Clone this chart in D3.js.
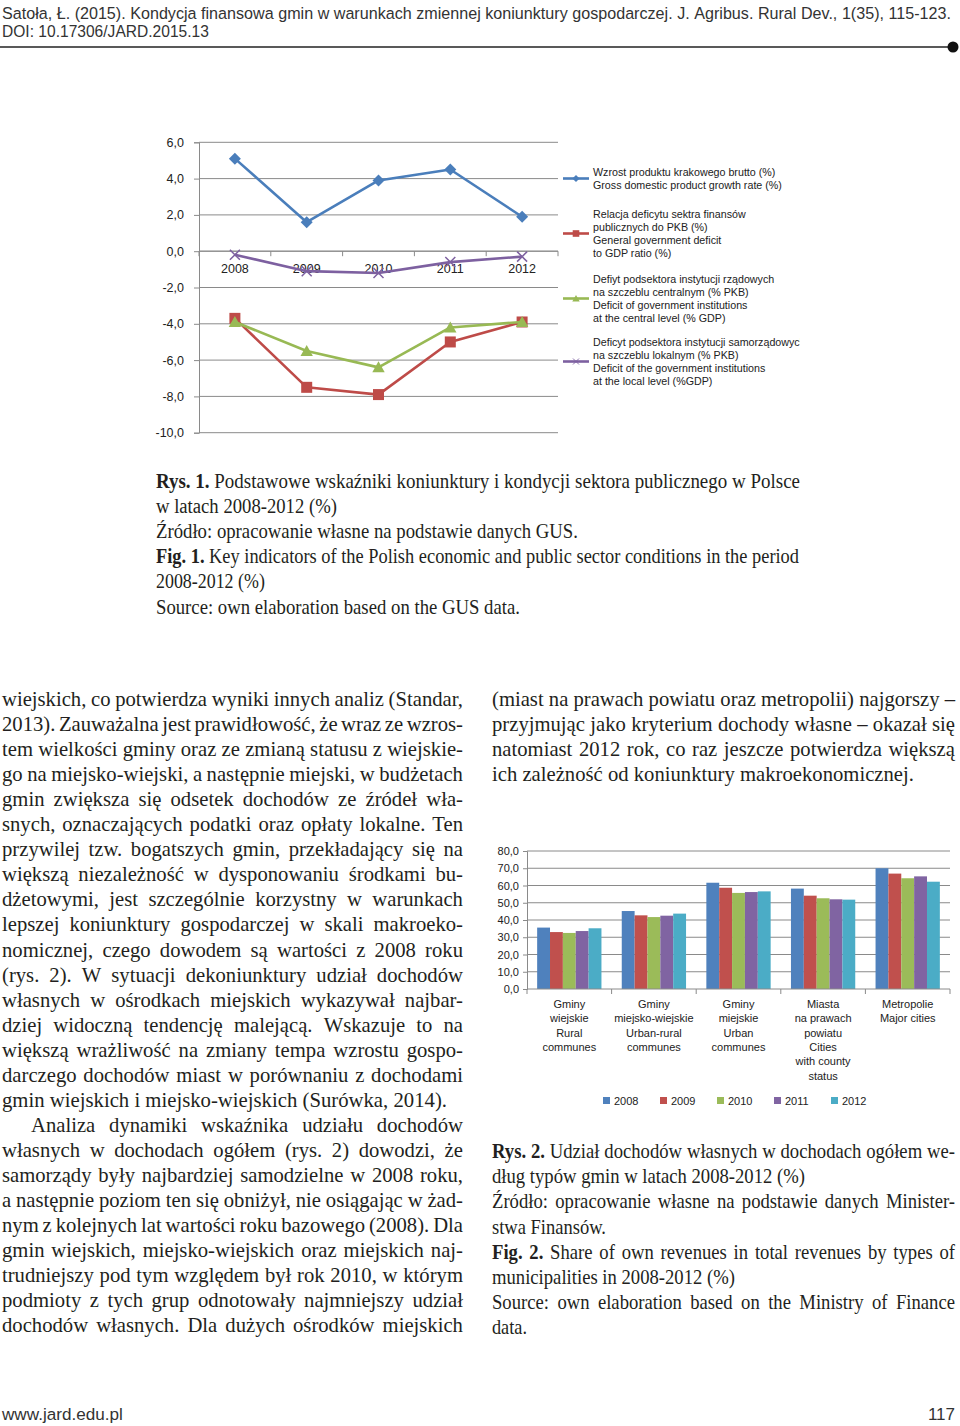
<!DOCTYPE html>
<html><head><meta charset="utf-8">
<script src="https://cdn.jsdelivr.net/npm/d3@7"></script>
<style>
html,body{margin:0;padding:0;background:#fff;}
svg{display:block;}
</style></head><body>
<svg id="page" width="960" height="1426"></svg>
<script>
// ---------- DATA: chart 1 ----------
const years = ["2008","2009","2010","2011","2012"];
const gdpGrowth      = [5.1, 1.6, 3.9, 4.5, 1.9];
const govDeficit     = [-3.7, -7.5, -7.9, -5.0, -3.9];
const centralDeficit = [-3.9, -5.5, -6.4, -4.2, -3.9];
const localDeficit   = [-0.2, -1.1, -1.2, -0.6, -0.3];
const lineTicks = [6, 4, 2, 0, -2, -4, -6, -8, -10];
const legendGdp     = ["Wzrost produktu krakowego brutto (%)", "Gross domestic product growth rate (%)"];
const legendGov     = ["Relacja deficytu sektra finansów", "publicznych do PKB (%)", "General government deficit", "to GDP ratio (%)"];
const legendCentral = ["Defiyt podsektora instytucji rządowych", "na szczeblu centralnym (% PKB)", "Deficit of government institutions", "at the central level (% GDP)"];
const legendLocal   = ["Deficyt podsektora instytucji samorządowych", "na szczeblu lokalnym (% PKB)", "Deficit of the government institutions", "at the local level (%GDP)"];

// ---------- DATA: chart 2 ----------
const communeTypes = ["rural", "urbanRural", "urban", "cities", "major"];
const communeLabels = [
  ["Gminy", "wiejskie", "Rural", "communes"],
  ["Gminy", "miejsko-wiejskie", "Urban-rural", "communes"],
  ["Gminy", "miejskie", "Urban", "communes"],
  ["Miasta", "na prawach", "powiatu", "Cities", "with county", "status"],
  ["Metropolie", "Major cities"]
];
const share2008 = [35.6, 45.2, 61.6, 58.2, 70.0];
const share2009 = [33.0, 42.7, 58.7, 54.1, 66.9];
const share2010 = [32.5, 41.7, 55.7, 52.6, 64.2];
const share2011 = [33.6, 42.5, 56.2, 52.0, 65.3];
const share2012 = [35.2, 43.7, 56.6, 51.8, 62.2];
const barTicks = [0, 10, 20, 30, 40, 50, 60, 70, 80];

// ---------- TEXT ----------
const headerLine1 = "Satoła, Ł. (2015). Kondycja finansowa gmin w warunkach zmiennej koniunktury gospodarczej. J. Agribus. Rural Dev., 1(35), 115-123.";
const headerLine2 = "DOI: 10.17306/JARD.2015.13";
const footerLeft = "www.jard.edu.pl";
const footerRight = "117";
const caption1 = [
  "Rys. 1. Podstawowe wskaźniki koniunktury i kondycji sektora publicznego w Polsce",
  "w latach 2008-2012 (%)",
  "Źródło: opracowanie własne na podstawie danych GUS.",
  "Fig. 1. Key indicators of the Polish economic and public sector conditions in the period",
  "2008-2012 (%)",
  "Source: own elaboration based on the GUS data."
];
const leftColumn = [
  "wiejskich, co potwierdza wyniki innych analiz (Standar,",
  "2013). Zauważalna jest prawidłowość, że wraz ze wzros-",
  "tem wielkości gminy oraz ze zmianą statusu z wiejskie-",
  "go na miejsko-wiejski, a następnie miejski, w budżetach",
  "gmin zwiększa się odsetek dochodów ze źródeł wła-",
  "snych, oznaczających podatki oraz opłaty lokalne. Ten",
  "przywilej tzw. bogatszych gmin, przekładający się na",
  "większą niezależność w dysponowaniu środkami bu-",
  "dżetowymi, jest szczególnie korzystny w warunkach",
  "lepszej koniunktury gospodarczej w skali makroeko-",
  "nomicznej, czego dowodem są wartości z 2008 roku",
  "(rys. 2). W sytuacji dekoniunktury udział dochodów",
  "własnych w ośrodkach miejskich wykazywał najbar-",
  "dziej widoczną tendencję malejącą. Wskazuje to na",
  "większą wrażliwość na zmiany tempa wzrostu gospo-",
  "darczego dochodów miast w porównaniu z dochodami",
  "gmin wiejskich i miejsko-wiejskich (Surówka, 2014).",
  "Analiza dynamiki wskaźnika udziału dochodów",
  "własnych w dochodach ogółem (rys. 2) dowodzi, że",
  "samorządy były najbardziej samodzielne w 2008 roku,",
  "a następnie poziom ten się obniżył, nie osiągając w żad-",
  "nym z kolejnych lat wartości roku bazowego (2008). Dla",
  "gmin wiejskich, miejsko-wiejskich oraz miejskich naj-",
  "trudniejszy pod tym względem był rok 2010, w którym",
  "podmioty z tych grup odnotowały najmniejszy udział",
  "dochodów własnych. Dla dużych ośrodków miejskich"
];
const rightColumn = [
  "(miast na prawach powiatu oraz metropolii) najgorszy –",
  "przyjmując jako kryterium dochody własne – okazał się",
  "natomiast 2012 rok, co raz jeszcze potwierdza większą",
  "ich zależność od koniunktury makroekonomicznej."
];
const caption2 = [
  "Rys. 2. Udział dochodów własnych w dochodach ogółem we-",
  "dług typów gmin w latach 2008-2012 (%)",
  "Źródło: opracowanie własne na podstawie danych Minister-",
  "stwa Finansów.",
  "Fig. 2. Share of own revenues in total revenues by types of",
  "municipalities in 2008-2012 (%)",
  "Source: own elaboration based on the Ministry of Finance",
  "data."
];

// ---------- helpers ----------
const svg = d3.select("#page");
const SERIF = "Liberation Serif, Times New Roman, serif";
const SANS = "Liberation Sans, Arial, sans-serif";
const TXT = "#231f20";
const measurer = svg.append("text").attr("visibility", "hidden");
function natW(str, font, size, weight) {
  measurer.attr("font-family", font).attr("font-size", size).attr("font-weight", weight || "normal").text(str);
  return measurer.node().getComputedTextLength();
}
// draw a line of words; mode: "justify" | "fit" | "natural"
function drawLine(parent, str, opts) {
  const words = str.split(" ");
  const bold = opts.bold || 0;
  const size = opts.size, font = opts.font;
  const ws = words.map((w, i) => natW(w, font, size, i < bold ? "bold" : "normal"));
  const sp = natW("a a", font, size) - natW("aa", font, size);
  const sumW = d3.sum(ws);
  let s = opts.scale || 1, gap;
  if (opts.mode === "fit") {
    s = (opts.x1 - opts.x0) / (sumW + sp * (words.length - 1));
    gap = sp * s;
  } else if (opts.mode === "justify") {
    gap = (opts.x1 - opts.x0 - sumW * s) / Math.max(1, words.length - 1);
  } else {
    gap = sp * s;
  }
  const t = parent.append("text")
    .attr("transform", `translate(0,${opts.y}) scale(${s},1)`)
    .attr("font-family", font).attr("font-size", size).attr("fill", opts.color || TXT);
  let x = opts.x0;
  words.forEach((w, i) => {
    t.append("tspan").attr("x", x / s).attr("y", 0)
      .attr("font-weight", i < bold ? "bold" : "normal")
      .text(i < words.length - 1 ? w + " " : w);
    x += ws[i] * s + gap;
  });
  return s;
}

// ---------- header / footer ----------
const hdr = svg.append("g");
const HC = "#333";
drawLine(hdr, headerLine1, {x0: 2, x1: 951, y: 19, mode: "fit", size: 16.5, font: SANS, color: HC});
drawLine(hdr, headerLine2, {x0: 2, x1: 209, y: 37, mode: "fit", size: 16.5, font: SANS, color: HC});
hdr.append("line").attr("x1", 0).attr("x2", 950).attr("y1", 47).attr("y2", 47).attr("stroke", "#222").attr("stroke-width", 1.6);
hdr.append("circle").attr("cx", 953).attr("cy", 47).attr("r", 5.5).attr("fill", "#111");
drawLine(hdr, footerLeft, {x0: 2, x1: 123, y: 1420, mode: "fit", size: 17, font: SANS, color: HC});
hdr.append("text").attr("x", 955).attr("y", 1420).attr("text-anchor", "end").attr("font-family", SANS).attr("font-size", 17)
  .attr("fill", HC).text(footerRight);

// ---------- chart 1 ----------
const c1 = svg.append("g");
const x1 = d3.scaleBand().domain(years).range([199, 558]);
const y1 = d3.scaleLinear().domain([-10, 6]).range([432.7, 142.3]);
const GRID = "#8a8a8a";
c1.selectAll("line.grid").data(lineTicks).join("line").attr("class", "grid")
  .attr("x1", 199).attr("x2", 558).attr("y1", d => y1(d)).attr("y2", d => y1(d))
  .attr("stroke", GRID).attr("stroke-width", 1);
const yAxis1 = d3.axisLeft(y1).tickValues(lineTicks).tickSize(5).tickPadding(10)
  .tickFormat(d => d.toFixed(1).replace(".", ","));
const ya1 = c1.append("g").attr("transform", "translate(199,0)").call(yAxis1);
ya1.select(".domain").attr("stroke", GRID);
ya1.selectAll(".tick line").attr("stroke", GRID);
ya1.selectAll(".tick text").attr("font-family", SANS).attr("font-size", 12.5).attr("fill", "#222");
// category axis at zero
c1.append("line").attr("x1", 199).attr("x2", 558).attr("y1", y1(0)).attr("y2", y1(0)).attr("stroke", GRID);
const bounds1 = years.map(d => x1(d) + x1.bandwidth()).concat([x1(years[0])]);
c1.selectAll("line.xt").data(bounds1).join("line").attr("class", "xt")
  .attr("x1", d => d).attr("x2", d => d).attr("y1", y1(0)).attr("y2", y1(0) + 5).attr("stroke", GRID);
c1.selectAll("text.cat").data(years).join("text").attr("class", "cat")
  .attr("x", d => x1(d) + x1.bandwidth() / 2).attr("y", y1(0) + 22)
  .attr("text-anchor", "middle").attr("font-family", SANS).attr("font-size", 12.5).attr("fill", "#222").text(d => d);

const BLUE = "#4a7ebb", RED = "#be4b48", GREEN = "#98b954", PURPLE = "#7d60a0";
function marker(sel, type, color) {
  if (type === "diamond") sel.append("path").attr("d", "M0,-6L6,0L0,6L-6,0Z").attr("fill", color);
  else if (type === "square") sel.append("rect").attr("x", -5.5).attr("y", -5.5).attr("width", 11).attr("height", 11).attr("fill", color);
  else if (type === "triangle") sel.append("path").attr("d", "M0,-6L6.2,5L-6.2,5Z").attr("fill", color);
  else if (type === "x") sel.append("path").attr("d", "M-5,-5L5,5M-5,5L5,-5").attr("stroke", color).attr("stroke-width", 1.5).attr("fill", "none");
}
const series1 = [
  {vals: gdpGrowth, color: BLUE, m: "diamond"},
  {vals: govDeficit, color: RED, m: "square"},
  {vals: centralDeficit, color: GREEN, m: "triangle"},
  {vals: localDeficit, color: PURPLE, m: "x"}
];
const lineGen = d3.line().x((d, i) => x1(years[i]) + x1.bandwidth() / 2).y(d => y1(d));
series1.forEach(s => {
  c1.append("path").attr("d", lineGen(s.vals)).attr("fill", "none").attr("stroke", s.color).attr("stroke-width", 2.6).attr("stroke-linejoin", "round");
  s.vals.forEach((v, i) => {
    const g = c1.append("g").attr("transform", `translate(${x1(years[i]) + x1.bandwidth() / 2},${y1(v)})`);
    marker(g, s.m, s.color);
  });
});
// legend
const leg1 = svg.append("g");
svg.append("clipPath").attr("id", "legclip").append("rect").attr("x", 555).attr("y", 150).attr("width", 245).attr("height", 250);
leg1.attr("clip-path", "url(#legclip)");
const legItems = [
  {lines: legendGdp, color: BLUE, m: "diamond", y0: 176},
  {lines: legendGov, color: RED, m: "square", y0: 218},
  {lines: legendCentral, color: GREEN, m: "triangle", y0: 283},
  {lines: legendLocal, color: PURPLE, m: "x", y0: 346}
];
legItems.forEach(it => {
  const my = it.y0 - 4 + (it.lines.length - 1) * 13 / 2;
  leg1.append("line").attr("x1", 563).attr("x2", 589).attr("y1", my).attr("y2", my).attr("stroke", it.color).attr("stroke-width", 2.6);
  const g = leg1.append("g").attr("transform", `translate(576,${my}) scale(0.6)`);
  marker(g, it.m, it.color);
  it.lines.forEach((l, i) => {
    leg1.append("text").attr("x", 593).attr("y", it.y0 + i * 13).attr("font-family", SANS)
      .attr("font-size", 10.7).attr("fill", "#222").text(l);
  });
});

// ---------- chart 2 ----------
const c2 = svg.append("g");
const xg = d3.scaleBand().domain(communeTypes).range([527, 950]);
const xb = d3.scaleBand().domain(years).range([xg.bandwidth() * 0.12, xg.bandwidth() * 0.88]);
const y2 = d3.scaleLinear().domain([0, 80]).range([989, 851]);
c2.selectAll("line.grid").data(barTicks.filter(d => d > 0)).join("line").attr("class", "grid")
  .attr("x1", 527).attr("x2", 950).attr("y1", d => y2(d)).attr("y2", d => y2(d)).attr("stroke", GRID);
const yAxis2 = d3.axisLeft(y2).tickValues(barTicks).tickSize(4).tickPadding(4)
  .tickFormat(d => d.toFixed(1).replace(".", ","));
const ya2 = c2.append("g").attr("transform", "translate(527,0)").call(yAxis2);
ya2.select(".domain").attr("stroke", GRID);
ya2.selectAll(".tick line").attr("stroke", GRID);
ya2.selectAll(".tick text").attr("font-family", SANS).attr("font-size", 11).attr("fill", "#222");
const barSeries = [share2008, share2009, share2010, share2011, share2012];
const barColors = ["#4f81bd", "#c0504d", "#9bbb59", "#8064a2", "#4bacc6"];
communeTypes.forEach((ct, gi) => {
  c2.selectAll(null).data(years).join("rect")
    .attr("x", d => xg(ct) + xb(d)).attr("width", xb.bandwidth())
    .attr("y", (d, yi) => y2(barSeries[yi][gi])).attr("height", (d, yi) => y2(0) - y2(barSeries[yi][gi]))
    .attr("fill", (d, yi) => barColors[yi]);
});
c2.append("line").attr("x1", 527).attr("x2", 950).attr("y1", y2(0)).attr("y2", y2(0)).attr("stroke", GRID);
const bounds2 = communeTypes.map(d => xg(d) + xg.bandwidth()).concat([xg(communeTypes[0])]);
c2.selectAll("line.xt").data(bounds2).join("line").attr("class", "xt")
  .attr("x1", d => d).attr("x2", d => d).attr("y1", y2(0)).attr("y2", y2(0) + 5).attr("stroke", GRID);
communeTypes.forEach((ct, gi) => {
  communeLabels[gi].forEach((l, li) => {
    c2.append("text").attr("x", xg(ct) + xg.bandwidth() / 2).attr("y", 1008 + li * 14.3)
      .attr("text-anchor", "middle").attr("font-family", SANS).attr("font-size", 11).attr("fill", "#222").text(l);
  });
});
const legX = d3.scaleBand().domain(years).range([603, 888]);
years.forEach((yv, i) => {
  c2.append("rect").attr("x", legX(yv)).attr("y", 1097).attr("width", 7).attr("height", 7).attr("fill", barColors[i]);
  c2.append("text").attr("x", legX(yv) + 11).attr("y", 1105).attr("font-family", SANS).attr("font-size", 11).attr("fill", "#222").text(yv);
});

// ---------- body text ----------
const txt = svg.append("g");
const SZ = 21;
const sBody = (914 - 492) / natW(rightColumn[3], SERIF, SZ);
// caption 1
const cap1Ends = [800, 337, 578, 799, 265, 520];
const cap1Bold = [2, 0, 0, 2, 0, 0];
caption1.forEach((l, i) => drawLine(txt, l, {x0: 156, x1: cap1Ends[i], y: 488 + i * 25.1, mode: "fit", size: 20, font: SERIF, bold: cap1Bold[i]}));
// left column
leftColumn.forEach((l, i) => {
  const y = 706 + i * 25.05;
  if (i === 16) drawLine(txt, l, {x0: 2, x1: 447, y, mode: "fit", size: SZ, font: SERIF});
  else drawLine(txt, l, {x0: i === 17 ? 31 : 2, x1: 463, y, mode: "justify", size: SZ, font: SERIF, scale: sBody});
});
// right column
rightColumn.forEach((l, i) => {
  const y = 706 + i * 25.05;
  if (i === 3) drawLine(txt, l, {x0: 492, x1: 914, y, mode: "fit", size: SZ, font: SERIF});
  else drawLine(txt, l, {x0: 492, x1: 955, y, mode: "justify", size: SZ, font: SERIF, scale: sBody});
});
// caption 2
const cap2Ends = [955, 805, 955, 606, 955, 735, 955, 527];
const cap2Bold = [2, 0, 0, 0, 2, 0, 0, 0];
const sCap2 = (805 - 492) / natW(caption2[1], SERIF, SZ);
caption2.forEach((l, i) => {
  const y = 1158 + i * 25.2;
  const justify = i % 2 === 0;
  drawLine(txt, l, {x0: 492, x1: cap2Ends[i], y, mode: justify ? "justify" : "fit", size: SZ, font: SERIF, bold: cap2Bold[i], scale: sCap2});
});
measurer.remove();
</script>
</body></html>
